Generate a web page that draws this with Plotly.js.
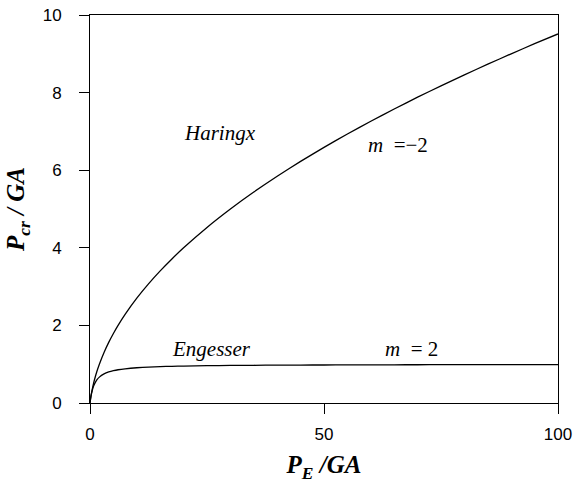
<!DOCTYPE html>
<html><head><meta charset="utf-8">
<script src="https://cdn.plot.ly/plotly-3.0.1.min.js"></script>
<style>body{margin:0;background:#fff}#c{width:584px;height:486px}</style>
</head><body><div id="c"></div>
<script>
// P_E/GA values (x) and critical load readings (y)
var peGA     = [0, 0.05, 0.1, 0.25, 0.5, 0.75, 1, 1.5, 2, 3, 4, 5, 6, 7.5, 10, 12.5, 15, 17.5, 20, 25, 30, 35, 40, 45, 50, 55, 60, 65, 70, 75, 80, 85, 90, 95, 100];
var haringx  = [0, 0.048, 0.092, 0.207, 0.366, 0.5, 0.618, 0.823, 1.0, 1.303, 1.562, 1.791, 2.0, 2.284, 2.702, 3.071, 3.405, 3.713, 4.0, 4.525, 5.0, 5.437, 5.844, 6.227, 6.589, 6.933, 7.262, 7.578, 7.882, 8.175, 8.458, 8.733, 9.0, 9.26, 9.512];
var engesser = [0, 0.048, 0.091, 0.2, 0.333, 0.429, 0.5, 0.6, 0.667, 0.75, 0.8, 0.833, 0.857, 0.882, 0.909, 0.926, 0.938, 0.946, 0.952, 0.962, 0.968, 0.972, 0.976, 0.978, 0.98, 0.982, 0.984, 0.985, 0.986, 0.987, 0.988, 0.988, 0.989, 0.99, 0.99];
var xTicks = [0, 50, 100];
var yTicks = [0, 2, 4, 6, 8, 10];

var line = {color: '#000', width: 1.3, shape: 'spline', smoothing: 0.5};
var traces = [
  {x: peGA, y: haringx, mode: 'lines', line: line, hoverinfo: 'skip'},
  {x: peGA, y: engesser, mode: 'lines', line: line, hoverinfo: 'skip'}
];
var serif = 'Liberation Serif, Times New Roman, serif';
var layout = {
  width: 584, height: 486,
  margin: {l: 90, r: 26, t: 15, b: 83},
  showlegend: false,
  paper_bgcolor: '#fff', plot_bgcolor: '#fff',
  font: {family: 'Liberation Sans, Arial, sans-serif', size: 17, color: '#000'},
  xaxis: {
    range: [0, 100], tickvals: xTicks, ticktext: xTicks.map(String),
    showgrid: false, zeroline: false, showline: true, mirror: true,
    linecolor: '#000', linewidth: 1, ticks: 'outside', ticklen: 10, tickcolor: '#000',
    ticklabelstandoff: 6,
    title: {text: '<b><i>P<sub>E</sub> /GA</i></b>', font: {family: serif, size: 25}, standoff: 12}
  },
  yaxis: {
    range: [0, 10], tickvals: yTicks, ticktext: yTicks.map(String),
    showgrid: false, zeroline: false, showline: true, mirror: true,
    linecolor: '#000', linewidth: 1, ticks: 'outside', ticklen: 10, tickcolor: '#000',
    ticklabelstandoff: 14,
    title: {text: '<b><i>P<sub>cr</sub> / GA</i></b>', font: {family: serif, size: 25}, standoff: 10}
  },
  annotations: [
    {x: 27.8, y: 6.96, text: '<i>Haringx</i>', showarrow: false, font: {family: serif, size: 21}},
    {x: 65.8, y: 6.65, text: '<i>m</i>  =−2', showarrow: false, font: {family: serif, size: 21}},
    {x: 25.9, y: 1.38, text: '<i>Engesser</i>', showarrow: false, font: {family: serif, size: 21}},
    {x: 68.8, y: 1.38, text: '<i>m</i>  = 2', showarrow: false, font: {family: serif, size: 21}}
  ]
};
Plotly.newPlot('c', traces, layout, {staticPlot: true});
</script></body></html>
